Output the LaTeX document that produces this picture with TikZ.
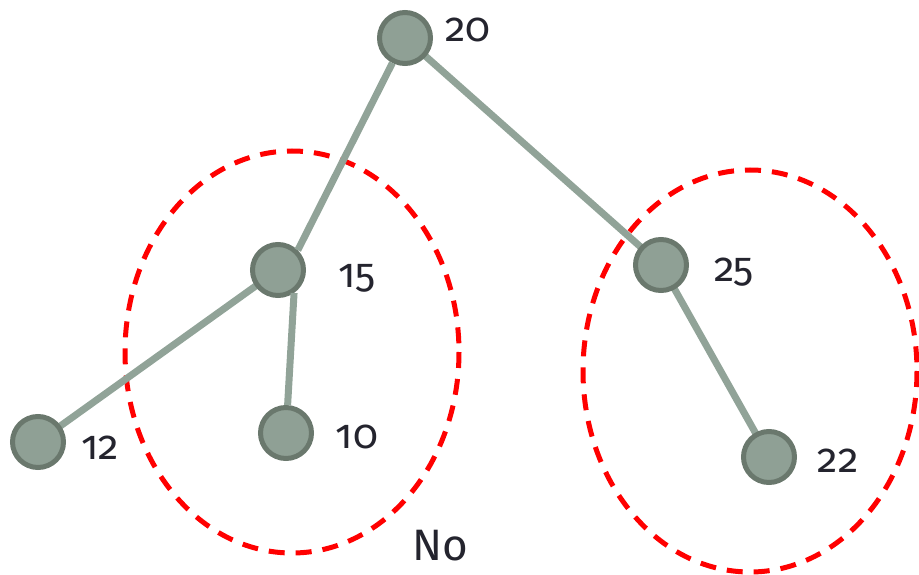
\documentclass[tikz,border=0pt]{standalone}
\usepackage{fontspec}
\setmainfont[Numbers=OldStyle]{Fira Sans}
\definecolor{nodefill}{HTML}{8FA095}
\definecolor{nodeline}{HTML}{6A786D}
\definecolor{edgecol}{HTML}{91A398}
\definecolor{textcol}{HTML}{24242E}
\tikzset{treeedge/.style={draw=edgecol,line width=7pt}}
\begin{document}
\begin{tikzpicture}[x=1pt,y=-1pt]

        \useasboundingbox (0,0) rectangle (919,575);

        % red dashed groups
        \begin{scope}[draw=red,line width=5pt,dash pattern=on 16pt off 11pt]
          \draw (292,352) ellipse [x radius=167,y radius=201];
          \draw (750,371) ellipse [x radius=167,y radius=201];
        \end{scope}

        % positions of the tree nodes
        \coordinate (p20) at (405,38);
        \coordinate (p15) at (278,270);
        \coordinate (p25) at (661,265);
        \coordinate (p12) at (38,442);
        \coordinate (p10) at (286,433);
        \coordinate (p22) at (769,457);

        % edges behind the nodes
        \begin{scope}[every edge/.style={treeedge}]
          \path (p20) edge (p25);
          \path (p15) edge (p12);
          \path (p25) edge (p22);
        \end{scope}

        \begin{scope}[every node/.style={circle,draw=nodeline,fill=nodefill,line width=5pt,minimum size=51pt,inner sep=0pt}]
          \node (20)  at (p20) {};
          \node (15)  at (p15) {};
          \node (25)  at (p25) {};
          \node (12)  at (p12) {};
          \node (10)  at (p10) {};
          \node (22)  at (p22) {};
        \end{scope}

        \begin{scope}[every edge/.style={treeedge}]
          \path (20) edge (15.45);
          \path (15.-55) edge (10);
        \end{scope}

        \begin{scope}[every node/.style={text=textcol,font=\fontsize{41}{47}\selectfont}]
          \node (l20) at (468,30)  {20};
          \node (l15) at (357,278) {15};
          \node (l25) at (734,272) {25};
          \node (l12) at (100,448) {12};
          \node (l10) at (357,437) {10};
          \node (l22) at (838,461) {22};
          \node (no)  at (440,546) {\fontsize{44}{50}\selectfont No};
        \end{scope}

      \end{tikzpicture}
\end{document}
